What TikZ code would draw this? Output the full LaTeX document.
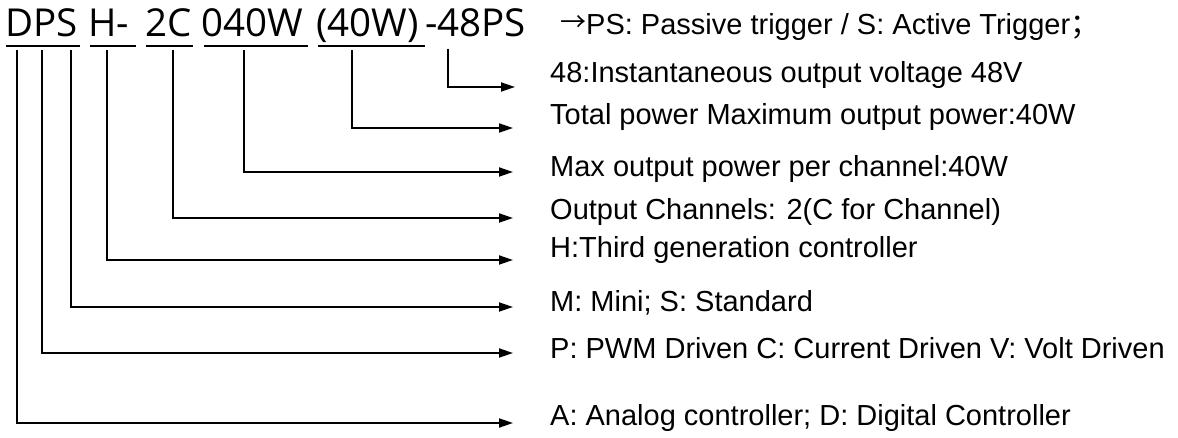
\documentclass[tikz,border=0pt]{standalone}
\usepackage{fontspec}
\setmainfont{Liberation Sans}
\newfontfamily\codefont{Open Sans}
\newfontfamily\cjkfont{Noto Sans CJK SC}
\usetikzlibrary{arrows.meta}
\begin{document}
\begin{tikzpicture}[x=1pt,y=-1pt,
  code/.style={inner sep=0pt,anchor=base west,font=\codefont\fontsize{38.5}{42}\selectfont},
  lab/.style={inner sep=0pt,anchor=base west,font=\fontsize{29}{33}\selectfont},
  uline/.style={line width=1.8pt},
  conn/.style={line width=1.8pt,-{Triangle[length=14pt,width=9pt]}}]
\useasboundingbox (0,0) rectangle (1178,438);
% code segments
\node[code] (cDPS) at (5,37) {DPS};
\node[code] (cH) at (88,37) {H-};
\node[code] (cC) at (145,37) {2C};
\node[code] (cW) at (201,37) {040W};
\node[code] (cT) at (316,37) {(40W)};
\node[code] (cV) at (425,37) {-48PS};
% underlines
\draw[uline] (6,46) -- (80,46);
\draw[uline] (90,46) -- (136,46);
\draw[uline] (146,46) -- (193,46);
\draw[uline] (204,46) -- (308,46);
\draw[uline] (318,46) -- (425,46);
% start coordinates
\coordinate (sD) at (17,50);
\coordinate (sP) at (42,50);
\coordinate (sS) at (71,50);
\coordinate (sH) at (107,50);
\coordinate (sC) at (173,50);
\coordinate (sW) at (244,50);
\coordinate (sT) at (352,50);
\coordinate (sV) at (448,49);
% end coordinates
\coordinate (eV) at (515,87);
\coordinate (eT) at (513,128);
\coordinate (eW) at (513,172);
\coordinate (eC) at (513,218);
\coordinate (eH) at (513,260);
\coordinate (eS) at (513,307);
\coordinate (eP) at (513,353);
\coordinate (eD) at (513,423);
% labels
\node[lab] (lPS) at (560,35) {\raisebox{3pt}{\cjkfont\fontsize{26}{30}\selectfont →}PS: Passive trigger / S: Active Trigger{\cjkfont ；}};
\node[lab] (lV) at (550,83) {48:Instantaneous output voltage 48V};
\node[lab] (lT) at (550,125) {Total power Maximum output power:40W};
\node[lab] (lW) at (550,177) {Max output power per channel:40W};
\node[lab] (lC) at (550,220) {Output Channels: 2(C for Channel)};
\node[lab] (lH) at (550,258) {H:Third generation controller};
\node[lab] (lS) at (550,312) {M: Mini; S: Standard};
\node[lab] (lP) at (550,358) {P: PWM Driven C: Current Driven V: Volt Driven};
\node[lab] (lD) at (550,425) {A: Analog controller; D: Digital Controller};
% connectors
\draw[conn] (sV) |- (eV);
\draw[conn] (sT) |- (eT);
\draw[conn] (sW) |- (eW);
\draw[conn] (sC) |- (eC);
\draw[conn] (sH) |- (eH);
\draw[conn] (sS) |- (eS);
\draw[conn] (sP) |- (eP);
\draw[conn] (sD) |- (eD);
\end{tikzpicture}
\end{document}
